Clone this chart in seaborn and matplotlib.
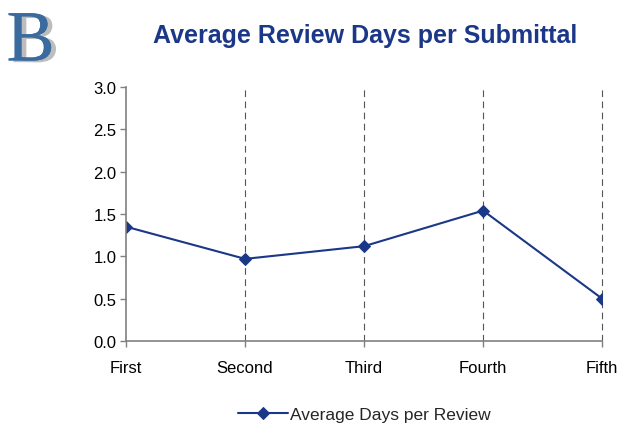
import pandas as pd
import matplotlib.pyplot as plt
import matplotlib.patheffects as pe
import seaborn as sns

submittals = ["First", "Second", "Third", "Fourth", "Fifth"]
avg_days = [1.35, 0.97, 1.12, 1.54, 0.50]
y_ticks = [0.0, 0.5, 1.0, 1.5, 2.0, 2.5, 3.0]

navy = "#1B3787"

sns.set_style("white")
plt.rcParams["font.family"] = ["Liberation Sans", "DejaVu Sans"]

df = pd.DataFrame({"submittal": submittals, "days": avg_days})

fig = plt.figure(figsize=(6.24, 4.27), dpi=100)
ax = fig.add_axes([0.202, 0.199, 0.763, 0.595])

sns.lineplot(
    data=df, x="submittal", y="days", ax=ax, color=navy, linewidth=1.5,
    marker="D", markersize=6, markeredgecolor=navy, label="Average Days per Review",
)

ax.set_xlim(0, len(submittals) - 1)
ax.set_ylim(0, 3.0)
ax.set_yticks(y_ticks)
ax.set_yticklabels([f"{v:.1f}" for v in y_ticks])
ax.set_xlabel("")
ax.set_ylabel("")

# dashed vertical gridlines at each category except the first
for i in range(1, len(submittals)):
    ax.axvline(i, color="#555555", linestyle=(0, (6, 4)), linewidth=0.8,
               zorder=0, clip_on=False)

for side in ["top", "right"]:
    ax.spines[side].set_visible(False)
for side in ["left", "bottom"]:
    ax.spines[side].set_color("#808080")
    ax.spines[side].set_linewidth(1.2)

ax.tick_params(axis="both", direction="out", length=4, width=1, color="#808080",
               labelsize=12, labelcolor="black", bottom=True, left=True)
ax.tick_params(axis="x", pad=10)
ax.tick_params(axis="y", pad=3)

sns.move_legend(ax, "center", bbox_to_anchor=(0.5, -0.29), frameon=False,
                fontsize=12.5, handlelength=2.9, handletextpad=0.1)

fig.text(0.585, 0.915, "Average Review Days per Submittal", ha="center", va="center",
         fontsize=18, fontweight="bold", color=navy)

# logo with a grey drop shadow
fig.text(0.049, 0.897, "B", ha="center", va="center", fontsize=52,
         family="Liberation Serif", color="#3A6A9E", fontweight="light",
         path_effects=[pe.withSimplePatchShadow(offset=(3.5, -1.2), shadow_rgbFace="#BDBDBD",
                                                alpha=1.0),
                       pe.Normal()])

fig.savefig("out.png", dpi=100)
